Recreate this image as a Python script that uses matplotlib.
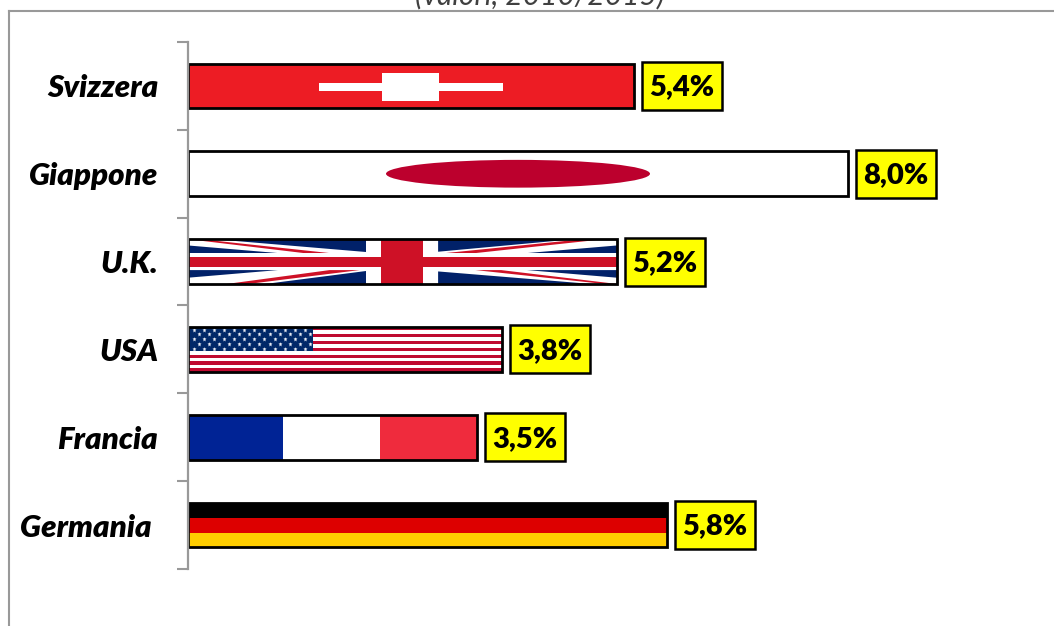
import matplotlib
matplotlib.use("Agg")
import matplotlib.pyplot as plt
from matplotlib.patches import Rectangle, Ellipse, Polygon
from matplotlib.lines import Line2D
from matplotlib.transforms import Affine2D

countries = ["Germania ", "Francia", "USA", "U.K.", "Giappone", "Svizzera"]
values = [5.8, 3.5, 3.8, 5.2, 8.0, 5.4]
value_labels = ["5,8%", "3,5%", "3,8%", "5,2%", "8,0%", "5,4%"]
title_text = "(valori, 2010/2015)"

W, H = 1054, 626
plt.rcParams["font.family"] = ["Lato", "DejaVu Sans"]
fig = plt.figure(figsize=(W / 100, H / 100), dpi=100, facecolor="white")
ax = fig.add_axes([188 / W, 1 - 569 / H, 825 / W, 527 / H])
ax.set_xlim(0, 10)
ax.set_ylim(-0.5, 5.5)
ax.patch.set_visible(False)
for s in ["top", "right", "bottom"]:
    ax.spines[s].set_visible(False)
ax.spines["left"].set_color("#999999")
ax.spines["left"].set_linewidth(1.6)
ax.spines["left"].set_zorder(6)
ax.set_xticks([])
ypos = list(range(len(countries)))
ax.set_yticks(ypos)
ax.set_yticklabels(countries, fontsize=22.5, fontweight="heavy", fontstyle="italic")
ax.tick_params(axis="y", which="major", length=0, pad=21.5)
ax.set_yticks([y - 0.5 for y in ypos] + [ypos[-1] + 0.5], minor=True)
ax.tick_params(axis="y", which="minor", length=8, width=1.5, color="#999999")

BAR_H = 0.51
ax.barh(ypos, values, height=BAR_H, facecolor="none", edgecolor="black",
        linewidth=2.0, zorder=4)


def unit(value, y):
    return Affine2D().scale(value, BAR_H).translate(0, y - BAR_H / 2) + ax.transData


def rect(tr, x0, y0, x1, y1, color):
    ax.add_patch(Rectangle((x0, y0), x1 - x0, y1 - y0, transform=tr, facecolor=color,
                           edgecolor="none", zorder=2))


def poly(tr, pts, color):
    ax.add_patch(Polygon(pts, closed=True, transform=tr, facecolor=color,
                         edgecolor="none", zorder=2))


# Germania
t = unit(values[0], ypos[0])
rect(t, 0, 2 / 3, 1, 1, "#000000")
rect(t, 0, 0.32, 1, 2 / 3, "#DD0000")
rect(t, 0, 0, 1, 0.32, "#FFCE00")
# Francia
t = unit(values[1], ypos[1])
rect(t, 0, 0, 0.33, 1, "#002395")
rect(t, 0.664, 0, 1, 1, "#EF2B3D")
# USA
t = unit(values[2], ypos[2])
for i in range(13):
    rect(t, 0, i / 13, 1, (i + 1) / 13, "#BF0A30" if i % 2 == 0 else "#FFFFFF")
rect(t, 0, 0.46, 0.40, 1, "#002868")
for r in range(5):
    yy = 0.52 + r * 0.105
    shift = 0.016 if r % 2 else 0.0
    xs = [0.02 + shift + 0.032 * c for c in range(12)]
    ax.plot(xs, [yy] * len(xs), linestyle="none", marker="*", markersize=3.6,
            markerfacecolor="#E4E8F0", markeredgecolor="none", transform=t, zorder=3)
# U.K.
t = unit(values[3], ypos[3])
rect(t, 0, 0, 1, 1, "#FFFFFF")
blue = "#012169"
red = "#CE1126"
poly(t, [(0.056, 1), (0.415, 1), (0.415, 0.72)], blue)
poly(t, [(0, 0.69), (0.21, 0.69), (0, 0.86)], blue)
poly(t, [(0.18, 0), (0.415, 0), (0.415, 0.28)], blue)
poly(t, [(0, 0.31), (0.21, 0.31), (0, 0.14)], blue)
poly(t, [(0.583, 0), (0.94, 0), (0.583, 0.28)], blue)
poly(t, [(1, 0.31), (0.79, 0.31), (1, 0.14)], blue)
poly(t, [(0.583, 1), (0.90, 1), (0.583, 0.72)], blue)
poly(t, [(1, 0.69), (0.79, 0.69), (1, 0.86)], blue)
poly(t, [(0, 1), (0.03, 1), (0.33, 0.69), (0.27, 0.69)], red)
poly(t, [(0.09, 0), (0.14, 0), (0.40, 0.31), (0.33, 0.31)], red)
poly(t, [(1, 0), (0.97, 0), (0.67, 0.31), (0.73, 0.31)], red)
poly(t, [(0.92, 1), (0.97, 1), (0.67, 0.69), (0.60, 0.69)], red)
rect(t, 0.415, 0, 0.583, 1, "#FFFFFF")
rect(t, 0, 0.31, 1, 0.69, "#FFFFFF")
rect(t, 0.449, 0, 0.548, 1, red)
rect(t, 0, 0.375, 1, 0.61, red)
# Giappone
t = unit(values[4], ypos[4])
ax.add_patch(Ellipse((0.50, 0.5), 0.40, 0.62, transform=t, facecolor="#BC002D",
                     edgecolor="none", zorder=2))
# Svizzera
t = unit(values[5], ypos[5])
rect(t, 0, 0, 1, 1, "#ED1C24")
rect(t, 0.294, 0.378, 0.708, 0.556, "#FFFFFF")
rect(t, 0.436, 0.155, 0.564, 0.78, "#FFFFFF")

# Value labels
px_x = 82.5
px_y = 527 / 6
for y, v, lab in zip(ypos, values, value_labels):
    ax.add_patch(Rectangle((v + 8 / px_x, y - 24 / px_y), 80 / px_x, 48 / px_y,
                           facecolor="#FFFF00", edgecolor="black", linewidth=1.8,
                           zorder=5, clip_on=False))
    ax.text(v + 48 / px_x, y + 1 / px_y, lab, ha="center", va="center_baseline", fontsize=21,
            fontweight="heavy", color="black", zorder=6)

# Outer chart frame (cut by the image edges)
for xs, ys in [((9, 9), (11, H)), ((9, W), (11, 11))]:
    fig.add_artist(Line2D([x / W for x in xs], [1 - y / H for y in ys], color="#999999",
                          linewidth=1.5, transform=fig.transFigure))

fig.text(540 / W, 1 - 4 / H, title_text, ha="center", va="baseline", fontsize=21.5,
         fontstyle="italic", color="#404040")

fig.savefig("out.png", dpi=100)
